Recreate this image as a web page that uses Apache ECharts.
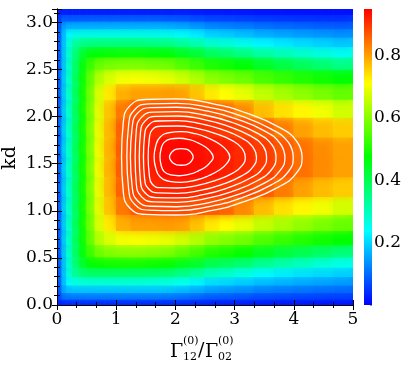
<!DOCTYPE html>
<html>
<head>
<meta charset="utf-8">
<script src="https://cdn.jsdelivr.net/npm/echarts@6/dist/echarts.min.js"></script>
<style>
  html, body { margin: 0; padding: 0; background: #fff; }
  #chart { width: 407px; height: 366px; }
</style>
</head>
<body>
<div id="chart"></div>
<script>
// cell edges of the colour map (x = Gamma12/Gamma02, kd)
var xEdges = [0, 0.08, 0.16, 0.26, 0.38, 0.5, 0.64, 0.8, 1.0, 1.25, 1.5, 1.75, 2.0, 2.25, 2.5, 2.75, 3.0, 3.33, 3.67, 4.0, 4.33, 4.67, 5.0];
var kdEdges = [0, 0.06, 0.13, 0.21, 0.30, 0.40, 0.51, 0.64, 0.79, 0.96, 1.15, 1.36, 1.5708,
  1.7816, 1.9916, 2.1816, 2.3516, 2.5016, 2.6316, 2.7416, 2.8416, 2.9316, 3.0116, 3.0816, 3.1416];

// values, one row per kd cell (from kd = 0 up), one column per x cell
var zRows = [
  [.03, .03, .03, .03, .03, .03, .03, .03, .03, .03, .03, .03, .03, .027, .024, .023, .022, .02, .019, .018, .017, .016],
  [.055, .099, .10, .10, .10, .10, .10, .10, .10, .10, .10, .097, .093, .085, .076, .074, .069, .063, .06, .057, .054, .052],
  [.06, .153, .174, .175, .175, .175, .175, .175, .175, .175, .175, .172, .165, .152, .136, .13, .124, .113, .107, .102, .097, .093],
  [.06, .168, .237, .259, .263, .265, .265, .265, .265, .265, .262, .258, .245, .227, .204, .197, .185, .17, .161, .153, .146, .139],
  [.06, .17, .263, .33, .357, .367, .37, .37, .37, .37, .365, .36, .34, .32, .29, .279, .259, .233, .221, .21, .20, .19],
  [.06, .17, .269, .359, .423, .464, .48, .485, .488, .488, .482, .475, .45, .43, .395, .382, .36, .33, .308, .289, .27, .253],
  [.06, .17, .27, .367, .456, .524, .573, .59, .598, .60, .592, .585, .56, .535, .505, .493, .475, .442, .416, .395, .375, .355],
  [.06, .17, .27, .37, .465, .556, .637, .675, .70, .705, .70, .69, .67, .643, .61, .596, .578, .547, .525, .507, .49, .475],
  [.06, .17, .27, .37, .47, .567, .672, .73, .785, .80, .80, .805, .80, .77, .733, .714, .692, .657, .632, .61, .589, .57],
  [.06, .17, .27, .37, .47, .575, .683, .765, .835, .868, .877, .878, .878, .87, .866, .857, .822, .774, .74, .72, .70, .67],
  [.06, .17, .27, .37, .47, .576, .69, .775, .858, .886, .912, .916, .917, .912, .906, .897, .884, .866, .835, .80, .775, .76],
  [.06, .17, .27, .37, .47, .576, .695, .78, .862, .893, .921, .94, .944, .937, .93, .922, .91, .895, .872, .845, .82, .80],
  [.06, .17, .27, .37, .47, .576, .695, .78, .862, .893, .921, .94, .944, .937, .93, .922, .91, .895, .872, .845, .82, .80],
  [.06, .17, .27, .37, .47, .576, .69, .775, .858, .886, .912, .916, .917, .912, .906, .897, .884, .866, .835, .80, .775, .76],
  [.06, .17, .27, .37, .47, .575, .683, .765, .835, .868, .877, .878, .878, .87, .866, .857, .822, .774, .74, .72, .70, .67],
  [.06, .17, .27, .37, .47, .567, .672, .73, .785, .80, .80, .805, .80, .77, .733, .714, .692, .657, .632, .61, .589, .57],
  [.06, .17, .27, .37, .465, .556, .637, .675, .70, .705, .70, .69, .67, .643, .61, .596, .578, .547, .525, .507, .49, .475],
  [.06, .17, .27, .367, .456, .524, .573, .59, .598, .60, .592, .585, .56, .535, .505, .493, .475, .442, .416, .395, .375, .355],
  [.06, .17, .269, .359, .423, .464, .48, .485, .488, .488, .482, .475, .45, .43, .395, .382, .36, .33, .308, .289, .27, .253],
  [.06, .17, .263, .33, .357, .367, .37, .37, .37, .37, .365, .36, .34, .32, .29, .279, .259, .233, .221, .21, .20, .19],
  [.06, .168, .237, .259, .263, .265, .265, .265, .265, .265, .262, .258, .245, .227, .204, .197, .185, .17, .161, .153, .146, .139],
  [.06, .153, .174, .175, .175, .175, .175, .175, .175, .175, .175, .172, .165, .152, .136, .13, .124, .113, .107, .102, .097, .093],
  [.055, .099, .10, .10, .10, .10, .10, .10, .10, .10, .10, .097, .093, .085, .076, .074, .069, .063, .06, .057, .054, .052],
  [.03, .03, .03, .03, .03, .03, .03, .03, .03, .03, .03, .03, .03, .027, .024, .023, .022, .02, .019, .018, .017, .016]
];

// white contours: x along the upper half (tip -> left end) and half height about kdMid
var kdMid = 1.571;
var contourX = [
  [4.14, 4.05, 3.74, 3.19, 2.62, 2.00, 1.49, 1.23, 1.12, 1.09],
  [3.99, 3.91, 3.62, 3.12, 2.59, 2.02, 1.55, 1.31, 1.21, 1.18],
  [3.85, 3.77, 3.51, 3.04, 2.55, 2.02, 1.58, 1.36, 1.27, 1.24],
  [3.70, 3.63, 3.39, 2.96, 2.51, 2.03, 1.63, 1.43, 1.34, 1.32],
  [3.54, 3.48, 3.26, 2.87, 2.47, 2.04, 1.67, 1.49, 1.41, 1.39],
  [3.37, 3.31, 3.12, 2.78, 2.42, 2.03, 1.71, 1.55, 1.48, 1.46],
  [3.18, 3.13, 2.97, 2.67, 2.36, 2.03, 1.75, 1.61, 1.56, 1.54],
  [2.92, 2.87, 2.75, 2.56, 2.34, 2.09, 1.90, 1.74, 1.67, 1.64],
  [2.64, 2.60, 2.52, 2.39, 2.24, 2.06, 1.92, 1.81, 1.76, 1.74],
  [2.30, 2.28, 2.24, 2.18, 2.10, 2.02, 1.96, 1.92, 1.90]
];
var contourHalf = [
  [0, 0.166, 0.320, 0.468, 0.567, 0.616, 0.610, 0.542, 0.370, 0],
  [0, 0.154, 0.296, 0.433, 0.524, 0.570, 0.564, 0.502, 0.342, 0],
  [0, 0.143, 0.275, 0.401, 0.486, 0.528, 0.523, 0.465, 0.317, 0],
  [0, 0.130, 0.250, 0.366, 0.443, 0.481, 0.476, 0.423, 0.289, 0],
  [0, 0.117, 0.226, 0.331, 0.400, 0.435, 0.431, 0.383, 0.261, 0],
  [0, 0.104, 0.201, 0.293, 0.355, 0.386, 0.382, 0.340, 0.232, 0],
  [0, 0.089, 0.171, 0.250, 0.303, 0.329, 0.326, 0.290, 0.197, 0],
  [0, 0.067, 0.135, 0.199, 0.247, 0.269, 0.258, 0.210, 0.121, 0],
  [0, 0.050, 0.100, 0.147, 0.183, 0.199, 0.191, 0.155, 0.090, 0],
  [0, 0.035, 0.064, 0.083, 0.088, 0.083, 0.064, 0.035, 0]
];

var colorTicks = [0.2, 0.4, 0.6, 0.8];
var colorMax = 0.95;
var mapColors = ['#0000ff', '#00ffff', '#00ff00', '#ffff00', '#ff0000'];

var FONT = 'DejaVu Serif';

var cells = [];
for (var r = 0; r < zRows.length; r++) {
  for (var c = 0; c < zRows[r].length; c++) {
    cells.push([xEdges[c], xEdges[c + 1], kdEdges[r], kdEdges[r + 1], zRows[r][c]]);
  }
}

var contourSeries = contourX.map(function (xs, i) {
  var hs = contourHalf[i];
  var pts = [];
  for (var j = 0; j < xs.length; j++) pts.push([xs[j], kdMid + hs[j]]);
  for (var j = xs.length - 2; j >= 0; j--) pts.push([xs[j], kdMid - hs[j]]);
  pts.push([xs[1], kdMid + hs[1]]);
  return {
    type: 'line', xAxisIndex: 0, yAxisIndex: 0, data: pts,
    smooth: 0.5, showSymbol: false, silent: true, z: 4,
    lineStyle: { color: '#ffffff', width: 1.3 }
  };
});

var stops = mapColors.map(function (col, i) {
  return { offset: i / (mapColors.length - 1), color: col };
});

var frameAxis = {
  axisLine: { show: true, lineStyle: { color: '#000', width: 1 } },
  axisTick: { show: true, inside: true, length: 5, lineStyle: { color: '#000' } },
  minorTick: { show: true, length: 3, lineStyle: { color: '#000' } },
  splitLine: { show: false },
  z: 6
};

function axis(extra) {
  return Object.assign({}, JSON.parse(JSON.stringify(frameAxis)), extra);
}

var chart = echarts.init(document.getElementById('chart'));
chart.setOption({
  animation: false,
  grid: [
    { left: 57, top: 9, width: 296, height: 296 },
    { left: 364, top: 9, width: 8, height: 296 }
  ],
  xAxis: [
    axis({ type: 'value', gridIndex: 0, min: 0, max: 5, interval: 1, position: 'bottom',
      minorTick: { show: true, splitNumber: 3, length: 3, lineStyle: { color: '#000' } },
      axisLabel: { color: '#000', fontFamily: FONT, fontSize: 17, margin: 6 } }),
    axis({ type: 'value', gridIndex: 0, min: 0, max: 5, interval: 1, position: 'top',
      minorTick: { show: true, splitNumber: 3, length: 3, lineStyle: { color: '#000' } },
      axisLabel: { show: false } }),
    { type: 'category', gridIndex: 1, data: ['bar'], show: false }
  ],
  yAxis: [
    axis({ type: 'value', gridIndex: 0, min: 0, max: Math.PI, interval: 0.5, position: 'left',
      minorTick: { show: true, splitNumber: 5, length: 3, lineStyle: { color: '#000' } },
      axisLabel: { color: '#000', fontFamily: FONT, fontSize: 17, margin: 4,
        formatter: function (v) { return Math.abs(v * 2 - Math.round(v * 2)) < 1e-6 ? v.toFixed(1) : ''; } } }),
    axis({ type: 'value', gridIndex: 0, min: 0, max: Math.PI, interval: 0.5, position: 'right',
      minorTick: { show: true, splitNumber: 5, length: 3, lineStyle: { color: '#000' } },
      axisLabel: { show: false } }),
    { type: 'value', gridIndex: 1, min: 0, max: colorMax, interval: 0.2, position: 'right',
      axisLine: { show: false }, splitLine: { show: false },
      axisTick: { show: true, inside: true, length: 2, lineStyle: { color: '#999' } },
      axisLabel: { color: '#000', fontFamily: FONT, fontSize: 17, margin: 2,
        formatter: function (v) {
          for (var i = 0; i < colorTicks.length; i++) {
            if (Math.abs(v - colorTicks[i]) < 1e-6) return v.toFixed(1);
          }
          return '';
        } } }
  ],
  visualMap: {
    show: false, type: 'continuous', seriesIndex: 0, dimension: 4,
    min: 0, max: colorMax, inRange: { color: mapColors }
  },
  series: [
    {
      type: 'custom', xAxisIndex: 0, yAxisIndex: 0, data: cells, silent: true, clip: true,
      encode: { x: [0, 1], y: [2, 3] },
      renderItem: function (params, api) {
        var p0 = api.coord([api.value(0), api.value(2)]);
        var p1 = api.coord([api.value(1), api.value(3)]);
        var col = api.visual('color');
        return {
          type: 'rect',
          shape: { x: p0[0] - 0.3, y: p1[1] - 0.3, width: p1[0] - p0[0] + 0.6, height: p0[1] - p1[1] + 0.6 },
          // soft cell edges
          style: { fill: col, shadowColor: col, shadowBlur: 10 }
        };
      }
    },
    {
      type: 'bar', xAxisIndex: 2, yAxisIndex: 2, data: [colorMax], barWidth: '100%', silent: true,
      itemStyle: { color: new echarts.graphic.LinearGradient(0, 1, 0, 0, stops) }
    }
  ].concat(contourSeries),
  graphic: [
    { type: 'text', left: 1, top: 146, rotation: Math.PI / 2,
      style: { text: 'kd', font: '19px "DejaVu Serif"', fill: '#000' } },
    { type: 'text', left: 170, top: 343, style: { text: 'Γ', font: '19px "DejaVu Serif"', fill: '#000' } },
    { type: 'text', left: 183, top: 336, style: { text: '(0)', font: '11px "DejaVu Serif"', fill: '#000' } },
    { type: 'text', left: 183, top: 352, style: { text: '12', font: '11px "DejaVu Serif"', fill: '#000' } },
    { type: 'text', left: 198, top: 342, style: { text: '/', font: '19px "DejaVu Serif"', fill: '#000' } },
    { type: 'text', left: 205, top: 343, style: { text: 'Γ', font: '19px "DejaVu Serif"', fill: '#000' } },
    { type: 'text', left: 218, top: 336, style: { text: '(0)', font: '11px "DejaVu Serif"', fill: '#000' } },
    { type: 'text', left: 218, top: 352, style: { text: '02', font: '11px "DejaVu Serif"', fill: '#000' } }
  ]
});
</script>
</body>
</html>
